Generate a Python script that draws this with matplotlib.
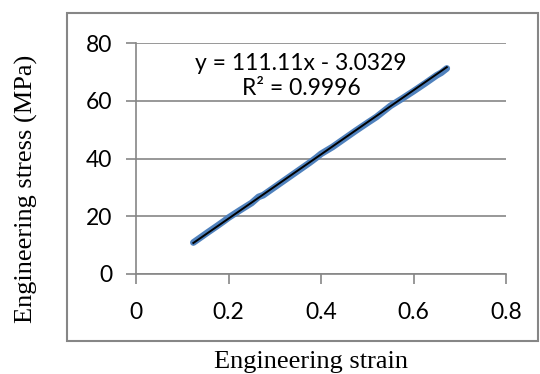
import matplotlib.pyplot as plt
from matplotlib.patches import Rectangle
import numpy as np

# strain / stress points
strain = [0.124, 0.14, 0.155, 0.175, 0.19, 0.2, 0.225, 0.25, 0.265, 0.275, 0.3,
          0.325, 0.35, 0.375, 0.39, 0.4, 0.425, 0.45, 0.475, 0.5, 0.52, 0.535,
          0.55, 0.575, 0.6, 0.625, 0.65, 0.66, 0.672]
stress = [10.9, 12.7, 14.4, 16.6, 18.3, 19.5, 22.1, 24.6, 26.7, 27.3, 30.1,
          32.9, 35.7, 38.5, 40.3, 41.6, 44.0, 46.8, 49.6, 52.3, 54.4, 56.3,
          58.2, 60.7, 63.3, 66.0, 68.8, 69.7, 71.2]

# linear trendline as printed on the chart
slope = 111.11
intercept = -3.0329
r_squared = 0.9996

x_ticks = [0, 0.2, 0.4, 0.6, 0.8]
x_tick_labels = ['0', '0.2', '0.4', '0.6', '0.8']
y_ticks = [0, 20, 40, 60, 80]

W, H = 540, 374
grey = '#868686'
blue = '#4F81BD'
tick_font = 'Lato'
label_font = 'Liberation Serif'

fig = plt.figure(figsize=(W / 100, H / 100), dpi=100)
ax = fig.add_axes([136 / W, 1 - 274 / H, (506 - 136) / W, (274 - 43) / H])

# outer chart border (excel style)
fig.patches.append(Rectangle((67 / W, 1 - 341 / H), (538 - 67) / W, (341 - 13) / H,
                             transform=fig.transFigure, fill=False,
                             edgecolor=grey, linewidth=1.5))

ax.plot(strain, stress, color=blue, linewidth=4.8, solid_capstyle='round',
        solid_joinstyle='round', zorder=3)

trend_x = np.array([strain[0], strain[-1]])
ax.plot(trend_x, slope * trend_x + intercept, color='black', linewidth=1.4, zorder=4)

ax.set_xlim(0, 0.8)
ax.set_ylim(0, 80)
ax.set_xticks(x_ticks)
ax.set_xticklabels(x_tick_labels)
ax.set_yticks(y_ticks)

ax.grid(axis='y', color=grey, linewidth=1.2)
ax.set_axisbelow(True)
for side in ['top', 'right']:
    ax.spines[side].set_visible(False)
for side in ['left', 'bottom']:
    ax.spines[side].set_color(grey)
    ax.spines[side].set_linewidth(1.2)

ax.tick_params(axis='both', direction='out', length=7, width=1.2, color=grey,
               labelsize=16.5, labelcolor='black')
ax.tick_params(axis='x', pad=13.5)
ax.tick_params(axis='y', pad=10)
for lbl in ax.get_xticklabels() + ax.get_yticklabels():
    lbl.set_family(tick_font)

ax.text(0.357, 73, f'y = {slope}x - {abs(intercept)}', ha='center', va='center',
        fontsize=16.5, family=tick_font)
ax.text(0.357, 64.4, f'R² = {r_squared}', ha='center', va='center',
        fontsize=16.5, family=tick_font)

fig.text(26 / W, 1 - 189 / H, 'Engineering stress (MPa)', rotation=90,
         ha='center', va='center', fontsize=19, family=label_font)
fig.text(311.5 / W, 1 - 368 / H, 'Engineering strain', ha='center', va='baseline',
         fontsize=19, family=label_font)

fig.savefig('out.png', dpi=100)
